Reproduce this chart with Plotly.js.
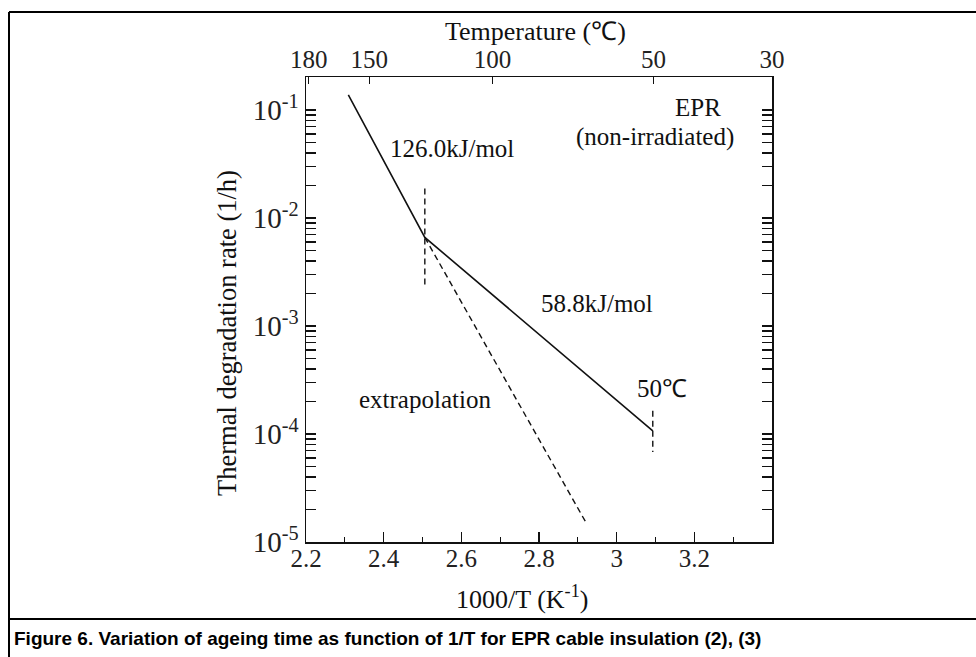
<!DOCTYPE html>
<html>
<head>
<meta charset="utf-8">
<script src="https://cdn.plot.ly/plotly-3.0.1.min.js"></script>
<style>
  html, body { margin: 0; padding: 0; background: #ffffff; }
  #chart { width: 976px; height: 657px; }
</style>
</head>
<body>
<div id="chart"></div>
<script>
// ---- data ----
// solid Arrhenius line (126.0 kJ/mol segment, then 58.8 kJ/mol segment)
var solidX = [2.309, 2.506, 3.093];
var solidY = [0.138, 0.00662, 1.07e-4];
// dashed extrapolation of the high-temperature slope
var extrapX = [2.506, 2.923];
var extrapY = [0.00662, 1.47e-5];
// vertical dashed markers (break point, 50 °C end)
var breakX = [2.506, 2.506];
var breakY = [0.0188, 0.00223];
var limitX = [3.093, 3.093];
var limitY = [1.64e-4, 6.8e-5];

// bottom axis ticks (1000/T)
var xTickVals = [2.2, 2.4, 2.6, 2.8, 3.0, 3.2];
var xTickText = ["2.2", "2.4", "2.6", "2.8", "3", "3.2"];
// left axis ticks
var yTickVals = [1e-5, 1e-4, 1e-3, 1e-2, 1e-1];
var yTickText = ["10<sup>-5</sup>", "10<sup>-4</sup>", "10<sup>-3</sup>", "10<sup>-2</sup>", "10<sup>-1</sup>"];
// top temperature axis (°C), positions as drawn in the figure
var tempTickPos = [2.207, 2.363, 2.680, 3.095, 3.400];
var tempTickText = ["180", "150", "100", "50", "30"];

var serif = "Liberation Serif, Times New Roman, serif";
var ink = "#111111";
var fs = 25;

var traces = [
  { x: solidX, y: solidY, type: "scatter", mode: "lines",
    line: { color: ink, width: 1.6 }, hoverinfo: "skip", showlegend: false },
  { x: extrapX, y: extrapY, type: "scatter", mode: "lines",
    line: { color: ink, width: 1.4, dash: "6px,4px" }, hoverinfo: "skip", showlegend: false },
  { x: breakX, y: breakY, type: "scatter", mode: "lines",
    line: { color: ink, width: 1.4, dash: "6px,4px" }, hoverinfo: "skip", showlegend: false },
  { x: limitX, y: limitY, type: "scatter", mode: "lines",
    line: { color: ink, width: 1.4, dash: "6px,4px" }, hoverinfo: "skip", showlegend: false },
  // invisible trace to carry the top temperature axis
  { x: [2.2, 3.4], y: [1e-3, 1e-3], xaxis: "x2", type: "scatter", mode: "lines",
    line: { color: "rgba(0,0,0,0)" }, hoverinfo: "skip", showlegend: false }
];

function px2paperX(px) { return (px - 306) / 466; }
function px2paperY(py) { return (542 - py) / 465; }

function note(text, x, y, extra) {
  var a = { text: text, x: x, y: y, xref: "x", yref: "y", showarrow: false,
            xanchor: "center", yanchor: "middle",
            font: { family: serif, size: fs, color: ink } };
  if (extra) { for (var k in extra) a[k] = extra[k]; }
  return a;
}

var layout = {
  width: 976, height: 657,
  margin: { l: 306, r: 204, t: 77, b: 115, pad: 0 },
  paper_bgcolor: "#ffffff", plot_bgcolor: "#ffffff",
  font: { family: serif, size: fs, color: ink },
  showlegend: false,
  xaxis: {
    range: [2.2, 3.4], showgrid: false, zeroline: false,
    showline: true, linecolor: ink, linewidth: 1.5, mirror: true,
    ticks: "inside", ticklen: 10, tickwidth: 1.3, tickcolor: ink,
    tickmode: "array", tickvals: xTickVals, ticktext: xTickText,
    ticklabelstandoff: -7,
    tickfont: { family: serif, size: fs, color: "#222" },
    minor: { ticks: "inside", ticklen: 5, tickwidth: 1.2, tickcolor: ink, dtick: 0.1, tick0: 2.2, showgrid: false }
  },
  xaxis2: {
    overlaying: "x", side: "top", range: [2.2, 3.4],
    showgrid: false, zeroline: false, showline: true, linecolor: ink, linewidth: 1.5,
    ticks: "inside", ticklen: 7, tickwidth: 1.3, tickcolor: ink,
    tickmode: "array", tickvals: tempTickPos, ticktext: tempTickText,
    ticklabelstandoff: -2,
    tickfont: { family: serif, size: fs, color: "#222" }
  },
  yaxis: {
    type: "log", range: [-5, -0.694], showgrid: false, zeroline: false,
    showline: true, linecolor: ink, linewidth: 1.5, mirror: "allticks",
    ticks: "inside", ticklen: 10, tickwidth: 1.3, tickcolor: ink,
    tickmode: "array", tickvals: yTickVals, ticktext: yTickText,
    tickfont: { family: serif, size: 29, color: "#222" },
    minor: { ticks: "inside", ticklen: 5, tickwidth: 1.2, tickcolor: ink, dtick: "D1", showgrid: false }
  },
  annotations: [
    note("126.0kJ/mol", 2.576, -1.352),
    note("EPR", 3.209, -0.981),
    note("(non-irradiated)", 3.099, -1.25),
    note("58.8kJ/mol", 2.949, -2.787),
    note("extrapolation", 2.506, -3.685),
    note("50℃", 3.117, -3.583),
    // axis titles
    note("Temperature (℃)", px2paperX(535), px2paperY(31), { xref: "paper", yref: "paper", font: { family: serif, size: 26, color: ink } }),
    note("1000/T (K<sup>-1</sup>)", px2paperX(522), px2paperY(597), { xref: "paper", yref: "paper", font: { family: serif, size: 26, color: ink } }),
    note("Thermal degradation rate (1/h)", px2paperX(227), px2paperY(333), { xref: "paper", yref: "paper", textangle: -90, font: { family: serif, size: 26.5, color: ink } }),
    // caption
    { text: "<b>Figure 6. Variation of ageing time as function of 1/T for EPR cable insulation (2), (3)</b>",
      x: px2paperX(12), y: px2paperY(638), xref: "paper", yref: "paper", xanchor: "left", yanchor: "middle",
      showarrow: false, font: { family: "Liberation Sans Narrow, Liberation Sans, Arial, sans-serif", size: 19, color: "#000" } }
  ],
  shapes: [
    { type: "line", xref: "paper", yref: "paper", x0: px2paperX(9), x1: px2paperX(976), y0: px2paperY(12), y1: px2paperY(12),
      line: { color: "#000", width: 2 } },
    { type: "line", xref: "paper", yref: "paper", x0: px2paperX(9), x1: px2paperX(9), y0: px2paperY(12), y1: px2paperY(657),
      line: { color: "#000", width: 2 } },
    { type: "line", xref: "paper", yref: "paper", x0: px2paperX(9), x1: px2paperX(976), y0: px2paperY(619), y1: px2paperY(619),
      line: { color: "#000", width: 2 } }
  ]
};

Plotly.newPlot("chart", traces, layout, { displayModeBar: false, staticPlot: true });
</script>
</body>
</html>
